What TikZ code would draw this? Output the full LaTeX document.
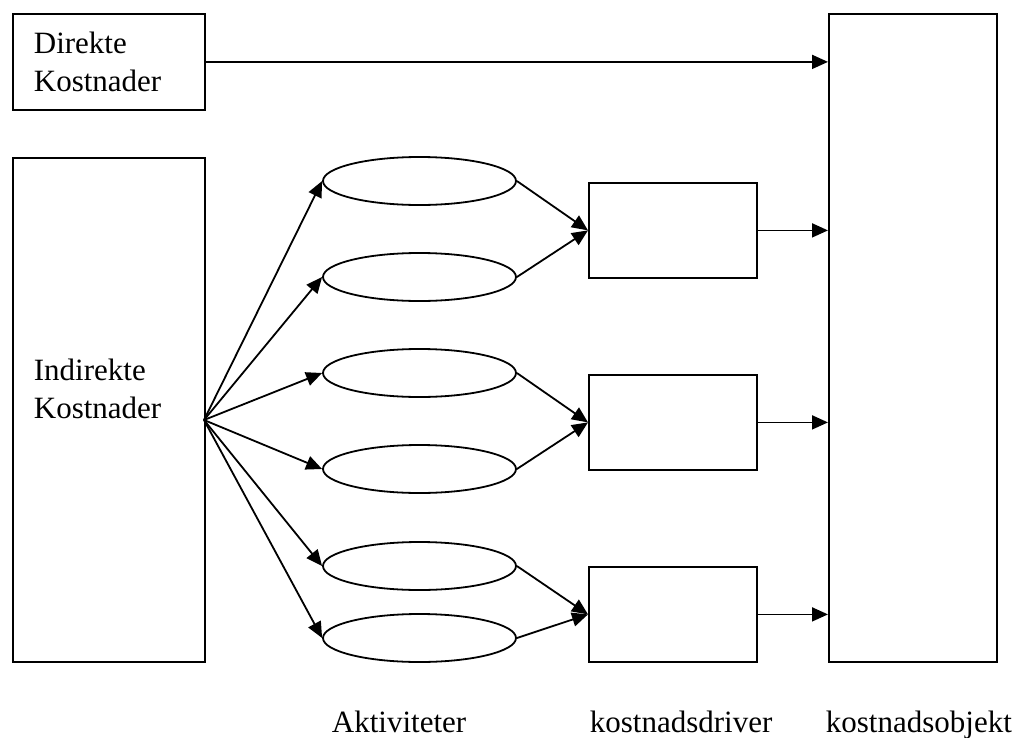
\documentclass[tikz,border=0pt]{standalone}
\usepackage{fontspec}
\setmainfont{Liberation Serif}
\usetikzlibrary{arrows.meta,shapes.geometric}

\begin{document}
\begin{tikzpicture}[x=1pt, y=-1pt, line width=1.8pt,
      font=\fontsize{31}{38}\selectfont,
      box/.style={draw, rectangle, inner sep=0pt, anchor=north west},
      activity/.style={draw, ellipse, minimum width=193pt, minimum height=48pt, inner sep=0pt},
      link/.style={-{Triangle[length=16pt, width=14pt]}},
      caption/.style={anchor=base west, inner sep=0pt}]
    \useasboundingbox (0,0) rectangle (1021,737);

    \node[box, minimum width=192pt, minimum height=96pt, text width=150pt,
          inner xsep=21pt, align=left] (direct) at (12,13) {Direkte\\Kostnader};
    \node[box, minimum width=192pt, minimum height=504pt] (indirect) at (12,157) {};
    \node[anchor=west, inner sep=0pt, align=left] (indtext) at (33,389) {Indirekte\\Kostnader};
    \node[box, minimum width=168pt, minimum height=648pt] (object) at (828,13) {};

    % aktiviteter
    \foreach \i/\y in {1/181, 2/277, 3/373, 4/469, 5/566, 6/638}
      \node[activity] (act\i) at (419.5,\y) {};

    % kostnadsdrivere
    \foreach \i/\y in {1/182, 2/374, 3/566}
      \node[box, minimum width=168pt, minimum height=95pt] (drv\i) at (588,\y) {};

    \coordinate (fan) at (204,420);

    \draw[link] (direct.east) -- (direct.east -| object.west);
    \foreach \i in {1,...,6}
      \draw[link] (fan) -- (act\i.west);
    \draw[link] (act1.east) -- (drv1.west);
    \draw[link] (act2.east) -- (drv1.west);
    \draw[link] (act3.east) -- (drv2.west);
    \draw[link] (act4.east) -- (drv2.west);
    \draw[link] (act5.east) -- (drv3.west);
    \draw[link] (act6.east) -- (drv3.west);
    \foreach \i in {1,2,3}
      \draw[link] (drv\i.east) -- (drv\i.east -| object.west);

    \node[caption] (actlabel) at (331,732) {Aktiviteter};
    \node[caption] (drvlabel) at (589,732) {kostnadsdriver};
    \node[caption] (objlabel) at (825,732) {kostnadsobjekt};
\end{tikzpicture}
\end{document}
